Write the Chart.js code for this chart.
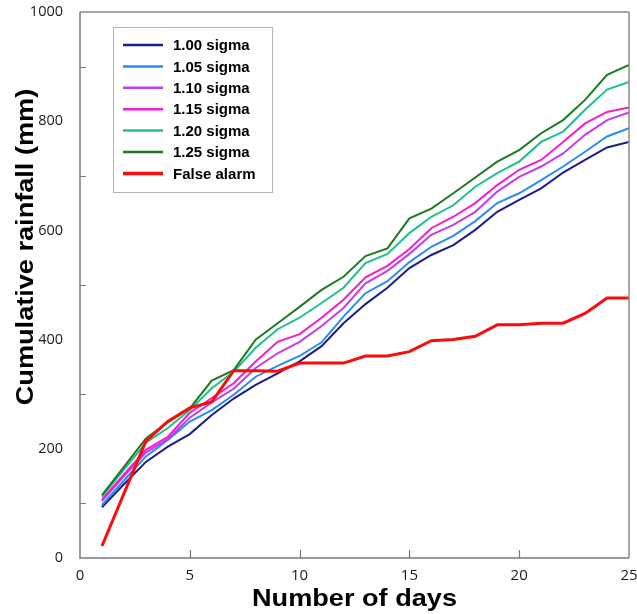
<!DOCTYPE html>
<html><head><meta charset="utf-8">
<script src="https://cdn.jsdelivr.net/npm/chart.js@4"></script>
<style>html,body{margin:0;padding:0;background:#fff}#wrap{width:637px;height:614px;position:relative}</style>
</head><body><div id="wrap"><canvas id="c" width="637" height="614"></canvas></div>
<script>
const days = [1,2,3,4,5,6,7,8,9,10,11,12,13,14,15,16,17,18,19,20,21,22,23,24,25];
const sigma100 = [93,135,176,204,227,262,292,317,338,360,388,430,465,495,531,555,573,601,634,656,677,706,729,752,762];
const sigma105 = [97,142,186,216,250,271,299,332,352,370,395,442,485,507,542,570,590,617,650,668,692,717,744,772,787];
const sigma110 = [104,150,193,218,257,285,310,348,375,396,425,458,503,526,557,592,610,634,671,698,717,741,775,802,816];
const sigma115 = [107,153,198,222,266,293,320,360,396,410,440,473,514,535,566,604,625,650,683,711,729,762,796,817,825];
const sigma120 = [112,162,211,238,271,311,341,385,419,440,467,495,540,557,595,625,646,680,705,726,762,781,821,858,872];
const sigma125 = [115,167,219,249,274,325,344,400,430,460,491,515,553,567,622,640,668,697,726,747,778,802,839,885,903];
const falseAlarm = [22,118,214,250,275,286,343,343,342,357,357,357,370,370,378,398,400,406,427,427,430,430,448,476,476];
const seriesLabels = ['1.00 sigma','1.05 sigma','1.10 sigma','1.15 sigma','1.20 sigma','1.25 sigma','False alarm'];
const xTickValues = [0,5,10,15,20,25];
const yTickValues = [0,200,400,600,800,1000];
const yMinorTicks = [100,300,500,700,900];
const xInnerTicks = [5,10,15,20];
const xTitle = 'Number of days';
const yTitle = 'Cumulative rainfall (mm)';

const seriesValues = [sigma100,sigma105,sigma110,sigma115,sigma120,sigma125,falseAlarm];
const seriesColors = ['#1c1c8a','#2a8cf0','#c23cf0','#f51ccc','#1fc08c','#1e7a1e','#ff0a0a'];
const seriesWidths = [2,2,2,2,2,2,3];

const datasets = seriesValues.map((vals,i)=>({
  label: seriesLabels[i],
  data: days.map((d,j)=>({x:d,y:vals[j]})),
  borderColor: seriesColors[i],
  backgroundColor: seriesColors[i],
  borderWidth: seriesWidths[i],
  pointRadius: 0,
  tension: 0,
  fill: false
}));
datasets.forEach((d,i)=>{ d.order = seriesValues.length - i; });

const decor = {
  id:'decor',
  afterDatasetsDraw(chart){
    const {ctx, chartArea:a, scales:{x,y}} = chart;
    ctx.save();
    ctx.strokeStyle = '#8a8a8a'; ctx.lineWidth = 1.5;
    ctx.beginPath();
    ctx.moveTo(a.left, a.top); ctx.lineTo(a.right, a.top);
    ctx.moveTo(a.right, a.top); ctx.lineTo(a.right, a.bottom);
    ctx.stroke();
    ctx.strokeStyle = '#7a7a7a';
    ctx.beginPath();
    ctx.moveTo(a.left, a.top); ctx.lineTo(a.left, a.bottom); ctx.lineTo(a.right, a.bottom);
    ctx.stroke();
    ctx.lineWidth = 1.2;
    ctx.beginPath();
    yMinorTicks.forEach(v=>{ const py = Math.round(y.getPixelForValue(v))+0.5; ctx.moveTo(a.left, py); ctx.lineTo(a.left+6, py); });
    xInnerTicks.forEach(v=>{ const px = Math.round(x.getPixelForValue(v))+0.5; ctx.moveTo(px, a.bottom); ctx.lineTo(px, a.bottom-8); });
    ctx.stroke();
    ctx.fillStyle = '#fff';
    ctx.fillRect(113, 27, 159, 165);
    ctx.strokeStyle = '#b4b4b4'; ctx.lineWidth = 1;
    ctx.strokeRect(113.5, 27.5, 159, 165);
    ctx.font = 'bold 15px "Liberation Sans", Arial, sans-serif';
    ctx.textBaseline = 'middle'; ctx.textAlign = 'left';
    chart.data.datasets.forEach((ds,i)=>{
      const ly = 45 + i*21.4;
      ctx.strokeStyle = ds.borderColor; ctx.lineWidth = ds.borderWidth + 0.5;
      ctx.beginPath(); ctx.moveTo(123, ly); ctx.lineTo(163, ly); ctx.stroke();
      ctx.fillStyle = '#000';
      ctx.fillText(ds.label, 173, ly+1);
    });
    ctx.fillStyle = '#000';
    ctx.font = 'bold 24px "Liberation Sans", Arial, sans-serif';
    ctx.textAlign = 'center'; ctx.textBaseline = 'alphabetic';
    ctx.save();
    ctx.translate((a.left+a.right)/2, 606);
    ctx.scale(1.13, 1);
    ctx.fillText(xTitle, 0, 0);
    ctx.restore();
    ctx.translate(33, 247);
    ctx.rotate(-Math.PI/2);
    ctx.scale(1.13, 1);
    ctx.fillText(yTitle, 0, 0);
    ctx.restore();
  }
};

new Chart(document.getElementById('c'), {
  type:'line',
  data:{datasets},
  options:{
    responsive:false, animation:false, devicePixelRatio:1,
    layout:{padding:{top:12,right:8,left:0,bottom:0}},
    plugins:{legend:{display:false},tooltip:{enabled:false}},
    scales:{
      x:{type:'linear',min:0,max:25,
        afterBuildTicks(s){ s.ticks = xTickValues.map(v=>({value:v})); },
        afterFit(s){ s.height = 56; s.paddingLeft = 0; s.paddingRight = 0; },
        ticks:{padding:9,maxRotation:0,color:'#1a1a1a',font:{family:'Open Sans',size:15},callback:v=>String(v)},
        grid:{display:false,drawTicks:false}, border:{display:false}},
      y:{min:0,max:1000,
        afterBuildTicks(s){ s.ticks = yTickValues.map(v=>({value:v})); },
        afterFit(s){ s.width = 80; s.paddingTop = 0; s.paddingBottom = 0; },
        ticks:{padding:17,color:'#1a1a1a',font:{family:'Open Sans',size:14.5},callback:v=>String(v)},
        grid:{display:false,drawTicks:false}, border:{display:false}}
    }
  },
  plugins:[decor]
});
</script></body></html>
